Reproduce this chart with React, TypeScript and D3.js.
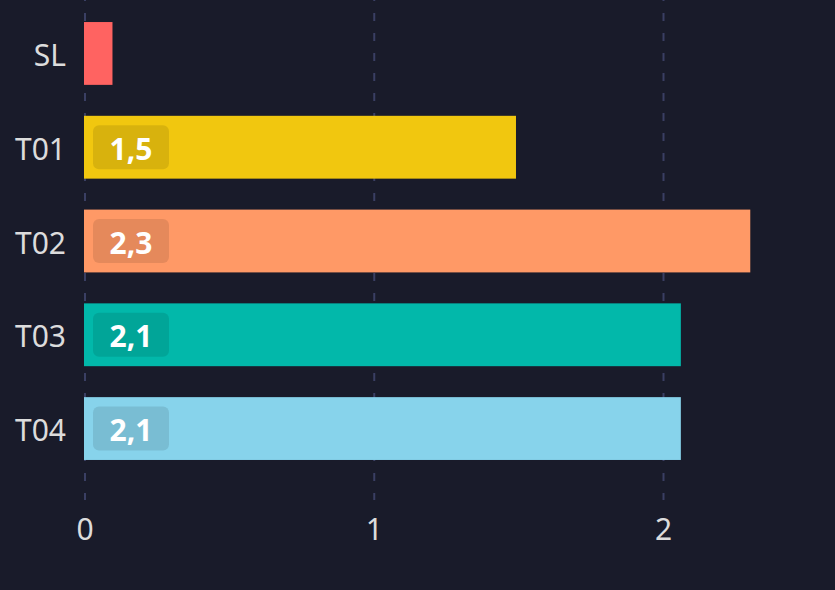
import React, { useRef, useEffect } from 'react';
import * as d3 from 'd3';

const categories = ['SL', 'T01', 'T02', 'T03', 'T04'];
const values = [0.095, 1.49, 2.3, 2.06, 2.06];
const colors = ['#ff6361', '#f1c70f', '#ff9966', '#02b8aa', '#87d3eb'];
const xTicks = [0, 1, 2];
// bars narrower than this get no value badge
const labelMin = 0.5;

const App = () => {
  const ref = useRef<SVGSVGElement>(null);

  useEffect(() => {
    const width = 835;
    const height = 590;
    const font = '"Noto Sans", "Open Sans", sans-serif';

    const svg = d3.select(ref.current);
    svg.selectAll('*').remove();
    svg.attr('width', width).attr('height', height);

    svg.append('rect').attr('width', width).attr('height', height).attr('fill', '#191b2a');

    const x = d3.scaleLinear().domain([0, 2]).range([85, 663.5]);
    const y = d3.scaleBand<string>()
      .domain(categories)
      .range([0, 482])
      .paddingInner(0.33)
      .paddingOuter(0.235);

    const data = categories.map((c, i) => ({ cat: c, value: values[i], color: colors[i] }));
    const fmt = (v: number) => d3.format('.1f')(v).replace('.', ',');

    // grid
    svg.append('g')
      .selectAll('line')
      .data(xTicks)
      .join('line')
      .attr('x1', d => x(d))
      .attr('x2', d => x(d))
      .attr('y1', 0)
      .attr('y2', 500)
      .attr('stroke', '#3a3f63')
      .attr('stroke-width', 2)
      .attr('stroke-dasharray', '8 12')
      .attr('stroke-dashoffset', 7);

    const bars = svg.append('g')
      .selectAll('g')
      .data(data)
      .join('g');

    bars.append('rect')
      .attr('x', x(0) - 1)
      .attr('y', d => y(d.cat)!)
      .attr('width', d => x(d.value) - x(0) + 1)
      .attr('height', y.bandwidth())
      .attr('fill', d => d.color);

    const lab = bars.filter(d => d.value >= labelMin);
    lab.append('rect')
      .attr('x', x(0) + 8)
      .attr('y', d => y(d.cat)! + y.bandwidth() / 2 - 22)
      .attr('width', 76)
      .attr('height', 44)
      .attr('rx', 6)
      .attr('fill', '#000')
      .attr('fill-opacity', 0.1);

    lab.append('text')
      .attr('x', x(0) + 46)
      .attr('y', d => y(d.cat)! + y.bandwidth() / 2 + 1)
      .attr('text-anchor', 'middle')
      .attr('dominant-baseline', 'central')
      .attr('font-family', font)
      .attr('font-weight', 700)
      .attr('font-size', 30)
      .attr('fill', '#ffffff')
      .text(d => fmt(d.value));

    // category labels
    svg.append('g')
      .selectAll('text')
      .data(categories)
      .join('text')
      .attr('x', 66)
      .attr('y', d => y(d)! + y.bandwidth() / 2 + 1)
      .attr('text-anchor', 'end')
      .attr('dominant-baseline', 'central')
      .attr('font-family', font)
      .attr('font-size', 30)
      .attr('fill', '#dcdcdc')
      .text(d => d);

    // x tick labels
    svg.append('g')
      .selectAll('text')
      .data(xTicks)
      .join('text')
      .attr('x', d => x(d))
      .attr('y', 528)
      .attr('text-anchor', 'middle')
      .attr('dominant-baseline', 'central')
      .attr('font-family', font)
      .attr('font-size', 30)
      .attr('fill', '#dcdcdc')
      .text(d => String(d));
  }, []);

  return <svg ref={ref} style={{ position: 'absolute', left: 0, top: 0, display: 'block' }}></svg>;
};

export default App;
